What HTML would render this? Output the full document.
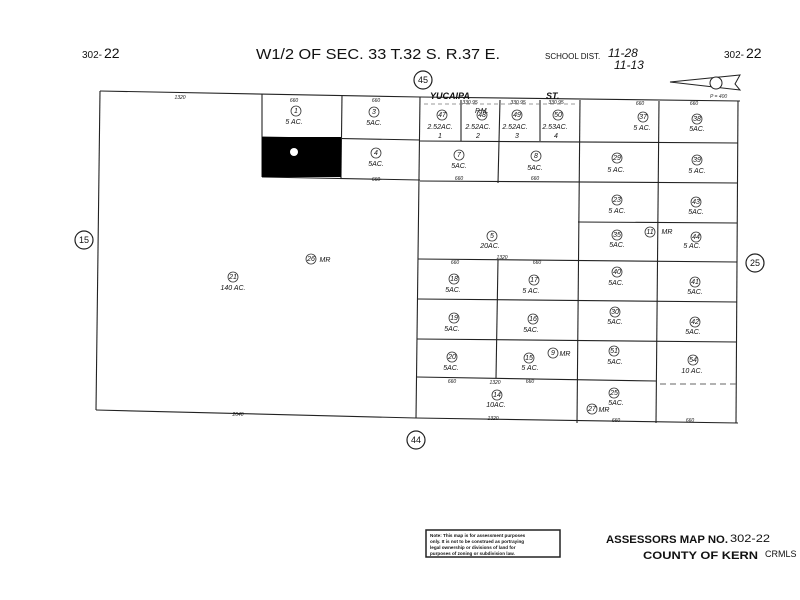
<!DOCTYPE html>
<html><head><meta charset="utf-8"><style>
html,body{margin:0;padding:0;background:#fff;}
svg{display:block;}
text{font-family:"Liberation Sans",sans-serif;fill:#111;}
.n{font-size:7px;font-style:italic;}
.a{font-size:7px;font-style:italic;}
.d{font-size:5px;font-style:italic;fill:#333;}
</style></head><body>
<svg width="800" height="600" viewBox="0 0 800 600" xmlns="http://www.w3.org/2000/svg">
<g stroke="#222" fill="none" stroke-width="1.1">
<polyline points="100,91 420,97 740,101"/>
<line x1="100" y1="91" x2="96" y2="410"/>
<line x1="96" y1="410" x2="416" y2="418"/>
<line x1="416" y1="418" x2="738" y2="423"/>
<line x1="738" y1="101" x2="736" y2="423"/>
<line x1="262" y1="94" x2="262" y2="177"/>
<line x1="342" y1="95" x2="341" y2="178"/>
<line x1="262" y1="137" x2="420" y2="140"/>
<line x1="262" y1="177" x2="420" y2="180"/>
<line x1="420" y1="97" x2="416" y2="418"/>
<line x1="461" y1="100" x2="461" y2="141"/>
<line x1="500" y1="100" x2="498" y2="183"/>
<line x1="540" y1="100" x2="540" y2="141"/>
<line x1="580" y1="100" x2="577" y2="423"/>
<line x1="659" y1="101" x2="656" y2="423"/>
<line x1="498" y1="260" x2="496" y2="378"/>
<line x1="420" y1="141" x2="738" y2="143"/>
<line x1="420" y1="181" x2="738" y2="183"/>
<line x1="578" y1="222" x2="737" y2="223"/>
<line x1="418" y1="259" x2="737" y2="262"/>
<line x1="418" y1="299" x2="737" y2="302"/>
<line x1="417" y1="339" x2="737" y2="342"/>
<line x1="417" y1="377" x2="656" y2="381"/>
<line x1="660" y1="384" x2="736" y2="384" stroke-dasharray="6,4" stroke="#666"/>
<line x1="424" y1="104" x2="578" y2="104" stroke-dasharray="4,3" stroke="#777" stroke-width="0.7"/>
</g>
<rect x="262" y="137" width="79" height="40" fill="#000"/>
<circle cx="294" cy="152" r="4" fill="#fff"/>
<text x="82" y="58" font-size="10">302-</text><text x="104" y="58" font-size="14">22</text>
<text x="256" y="59" font-size="15" textLength="244" lengthAdjust="spacingAndGlyphs">W1/2 OF SEC. 33 T.32 S. R.37 E.</text>
<text x="545" y="59" font-size="8">SCHOOL DIST.</text>
<text x="608" y="57" font-size="12" font-style="italic">11-28</text>
<text x="614" y="69" font-size="12" font-style="italic">11-13</text>
<text x="724" y="58" font-size="10">302-</text><text x="746" y="58" font-size="14">22</text>
<polygon points="670,82 740,75 735,84 740,90" fill="none" stroke="#222"/>
<circle cx="716" cy="83" r="6" fill="#fff" stroke="#222"/>
<text x="710" y="98" class="d">P = 400</text>
<g fill="#fff" stroke="#222" stroke-width="1.2">
<circle cx="423" cy="80" r="9"/><circle cx="84" cy="240" r="9"/>
<circle cx="755" cy="263" r="9"/><circle cx="416" cy="440" r="9"/>
</g>
<g font-size="9" text-anchor="middle">
<text x="423" y="83">45</text><text x="84" y="243">15</text><text x="755" y="266">25</text><text x="416" y="443">44</text>
</g>
<text x="430" y="99" font-size="9" font-style="italic" font-weight="bold">YUCAIPA</text>
<text x="546" y="99" font-size="9" font-style="italic" font-weight="bold">ST.</text>
<text x="475" y="113" class="n">P.M.</text>
<g fill="none" stroke="#333" stroke-width="0.8">
<circle cx="296" cy="111" r="5"/><circle cx="374" cy="112" r="5"/><circle cx="376" cy="153" r="5"/>
<circle cx="442" cy="115" r="5"/><circle cx="482" cy="115" r="5"/><circle cx="517" cy="115" r="5"/><circle cx="558" cy="115" r="5"/>
<circle cx="459" cy="155" r="5"/><circle cx="536" cy="156" r="5"/><circle cx="643" cy="117" r="5"/><circle cx="697" cy="119" r="5"/>
<circle cx="617" cy="158" r="5"/><circle cx="697" cy="160" r="5"/><circle cx="617" cy="200" r="5"/><circle cx="696" cy="202" r="5"/>
<circle cx="617" cy="235" r="5"/><circle cx="696" cy="237" r="5"/><circle cx="650" cy="232" r="5"/>
<circle cx="492" cy="236" r="5"/><circle cx="454" cy="279" r="5"/><circle cx="534" cy="280" r="5"/><circle cx="617" cy="272" r="5"/><circle cx="695" cy="282" r="5"/>
<circle cx="454" cy="318" r="5"/><circle cx="533" cy="319" r="5"/><circle cx="615" cy="312" r="5"/><circle cx="695" cy="322" r="5"/>
<circle cx="452" cy="357" r="5"/><circle cx="529" cy="358" r="5"/><circle cx="553" cy="353" r="5"/><circle cx="614" cy="351" r="5"/><circle cx="693" cy="360" r="5"/>
<circle cx="497" cy="395" r="5"/><circle cx="614" cy="393" r="5"/><circle cx="592" cy="409" r="5"/>
<circle cx="233" cy="277" r="5"/><circle cx="311" cy="259" r="5"/>
</g>
<g class="n" text-anchor="middle" font-size="5">
<text x="296" y="113">1</text><text x="374" y="114">3</text><text x="376" y="155">4</text><text x="442" y="117">47</text><text x="482" y="117">48</text><text x="517" y="117">49</text><text x="558" y="117">50</text>
<text x="459" y="157">7</text><text x="536" y="158">8</text><text x="643" y="119">37</text><text x="697" y="121">38</text><text x="617" y="160">29</text><text x="697" y="162">39</text>
<text x="617" y="202">23</text><text x="696" y="204">43</text><text x="617" y="237">35</text><text x="696" y="239">44</text><text x="650" y="234">11</text><text x="492" y="238">5</text>
<text x="454" y="281">18</text><text x="534" y="282">17</text><text x="617" y="274">40</text><text x="695" y="284">41</text><text x="454" y="320">19</text><text x="533" y="321">16</text><text x="615" y="314">30</text><text x="695" y="324">42</text>
<text x="452" y="359">20</text><text x="529" y="360">15</text><text x="553" y="355">9</text><text x="614" y="353">51</text><text x="693" y="362">54</text><text x="497" y="397">14</text><text x="614" y="395">25</text><text x="592" y="411">27</text>
<text x="233" y="279">21</text><text x="311" y="261">26</text>
</g>
<g class="a" text-anchor="middle">
<text x="294" y="124">5 AC.</text><text x="374" y="125">5AC.</text><text x="376" y="166">5AC.</text>
<text x="440" y="129">2.52AC.</text><text x="478" y="129">2.52AC.</text><text x="515" y="129">2.52AC.</text><text x="555" y="129">2.53AC.</text>
<text x="440" y="138">1</text><text x="478" y="138">2</text><text x="517" y="138">3</text><text x="556" y="138">4</text>
<text x="459" y="168">5AC.</text><text x="535" y="170">5AC.</text><text x="642" y="130">5 AC.</text><text x="697" y="131">5AC.</text>
<text x="616" y="172">5 AC.</text><text x="697" y="173">5 AC.</text><text x="617" y="213">5 AC.</text><text x="696" y="214">5AC.</text>
<text x="617" y="247">5AC.</text><text x="692" y="248">5 AC.</text><text x="490" y="248">20AC.</text>
<text x="453" y="292">5AC.</text><text x="531" y="293">5 AC.</text><text x="616" y="285">5AC.</text><text x="695" y="294">5AC.</text>
<text x="452" y="331">5AC.</text><text x="531" y="332">5AC.</text><text x="615" y="324">5AC.</text><text x="693" y="334">5AC.</text>
<text x="451" y="370">5AC.</text><text x="530" y="370">5 AC.</text><text x="615" y="364">5AC.</text><text x="692" y="373">10 AC.</text>
<text x="496" y="407">10AC.</text><text x="616" y="405">5AC.</text><text x="233" y="290">140 AC.</text>
<text x="667" y="234">MR</text><text x="565" y="356">MR</text><text x="604" y="412">MR</text><text x="325" y="262">MR</text>
</g>
<g class="d" text-anchor="middle">
<text x="180" y="99">1320</text><text x="294" y="102">660</text><text x="376" y="102">660</text><text x="640" y="105">660</text><text x="694" y="105">660</text>
<text x="376" y="181">660</text><text x="459" y="180">660</text><text x="535" y="180">660</text><text x="502" y="259">1320</text>
<text x="455" y="264">660</text><text x="537" y="264">660</text><text x="452" y="383">660</text><text x="530" y="383">660</text><text x="495" y="384">1320</text>
<text x="493" y="420">1320</text><text x="616" y="422">660</text><text x="690" y="422">660</text><text x="238" y="416">2640</text>
<text x="470" y="104">330.95</text><text x="518" y="104">330.95</text><text x="556" y="104">330.95</text>
</g>
<rect x="426" y="530" width="134" height="27" fill="#fff" stroke="#222" stroke-width="1.5"/>
<g font-size="4.6" font-weight="bold">
<text x="430" y="537">Note: This map is for assessment purposes</text>
<text x="430" y="543">only. It is not to be construed as portraying</text>
<text x="430" y="549">legal ownership or divisions of land for</text>
<text x="430" y="555">purposes of zoning or subdivision law.</text>
</g>
<text x="606" y="543" font-size="11" font-weight="bold" textLength="122" lengthAdjust="spacingAndGlyphs">ASSESSORS MAP NO.</text>
<text x="730" y="542" font-size="11" fill="#555" textLength="40" lengthAdjust="spacingAndGlyphs">302-22</text>
<text x="643" y="559" font-size="11" font-weight="bold" textLength="115" lengthAdjust="spacingAndGlyphs">COUNTY OF KERN</text>
<text x="765" y="557" font-size="9" fill="#aaa">CRMLS</text>
</svg>
</body></html>
